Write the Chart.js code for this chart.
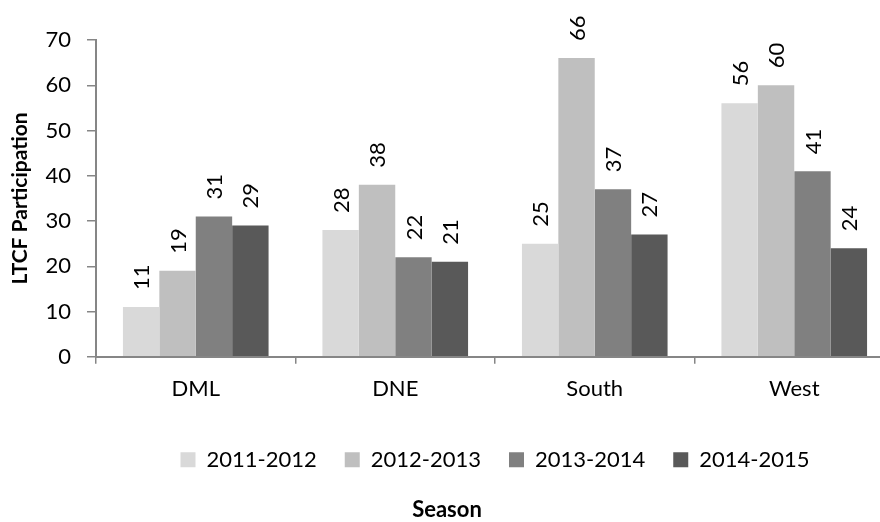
<!DOCTYPE html>
<html>
<head>
<meta charset="utf-8">
<script src="https://cdn.jsdelivr.net/npm/chart.js@4"></script>
<style>
  html, body { margin: 0; padding: 0; background: #fff; }
  #wrap { width: 880px; height: 522px; overflow: hidden; position: relative; }
  canvas { display: block; }
</style>
</head>
<body>
<div id="wrap"><canvas id="myChart" width="939" height="522"></canvas></div>
<script>
// values
let regions = ["DML", "DNE", "South", "West"];
let seasons = ["2011-2012", "2012-2013", "2013-2014", "2014-2015"];
let s2011 = [11, 28, 25, 56];
let s2012 = [19, 38, 66, 60];
let s2013 = [31, 22, 37, 41];
let s2014 = [29, 21, 27, 24];
let yTicks = [0, 10, 20, 30, 40, 50, 60, 70];

let colors = ["#d9d9d9", "#bfbfbf", "#808080", "#595959"];
let axisGray = "#868686";

Chart.defaults.font.family = "Lato";
Chart.defaults.color = "#000";

let series = [s2011, s2012, s2013, s2014];
let datasets = series.map(function (vals, i) {
    return {
        label: seasons[i],
        data: vals,
        backgroundColor: colors[i],
        borderWidth: 0,
        categoryPercentage: 0.73,
        barPercentage: 1.0
    };
});

// rotated value labels above each bar
let valueLabels = {
    id: "valueLabels",
    afterDatasetsDraw(chart) {
        let ctx = chart.ctx;
        ctx.save();
        ctx.font = "22px Lato";
        ctx.fillStyle = "#000";
        ctx.textAlign = "left";
        ctx.textBaseline = "middle";
        chart.data.datasets.forEach(function (ds, i) {
            let meta = chart.getDatasetMeta(i);
            meta.data.forEach(function (bar, j) {
                ctx.save();
                ctx.translate(bar.x + 1, bar.y - 17);
                ctx.rotate(-Math.PI / 2);
                ctx.fillText(String(ds.data[j]), 0, 0);
                ctx.restore();
            });
        });
        ctx.restore();
    }
};

let myChart = new Chart(document.getElementById("myChart"), {
    type: "bar",
    data: { labels: regions, datasets: datasets },
    options: {
        responsive: false,
        animation: false,
        layout: { padding: { left: 0, right: 45, top: 40, bottom: 0 } },
        scales: {
            x: {
                grid: {
                    offset: true,
                    drawOnChartArea: false,
                    color: axisGray,
                    lineWidth: 1.5,
                    tickLength: 7
                },
                border: { color: axisGray, width: 2 },
                ticks: { font: { size: 22 }, padding: 12, color: "#000" },
                afterFit(scale) { scale.height = 64; }
            },
            y: {
                min: 0,
                max: 70,
                afterBuildTicks(scale) {
                    scale.ticks = yTicks.map(function (v) { return { value: v }; });
                },
                grid: {
                    drawOnChartArea: false,
                    color: axisGray,
                    lineWidth: 1.5,
                    tickLength: 9
                },
                border: { color: axisGray, width: 2 },
                ticks: { font: { size: 22 }, padding: 16, color: "#000" },
                title: {
                    display: true,
                    text: "LTCF Participation",
                    font: { size: 21, weight: "bold" },
                    padding: { top: 8, bottom: 0 }
                },
                afterFit(scale) { scale.width = 96; }
            }
        },
        plugins: {
            legend: {
                position: "bottom",
                fullSize: false,
                labels: {
                    boxWidth: 15,
                    boxHeight: 15,
                    padding: 28,
                    font: { size: 22 },
                    color: "#000"
                }
            },
            title: {
                display: true,
                position: "bottom",
                text: "Season",
                font: { size: 22, weight: "bold", lineHeight: 1.1 },
                padding: { top: 17, bottom: 0 }
            },
            tooltip: { enabled: false }
        }
    },
    plugins: [valueLabels]
});
</script>
</body>
</html>
